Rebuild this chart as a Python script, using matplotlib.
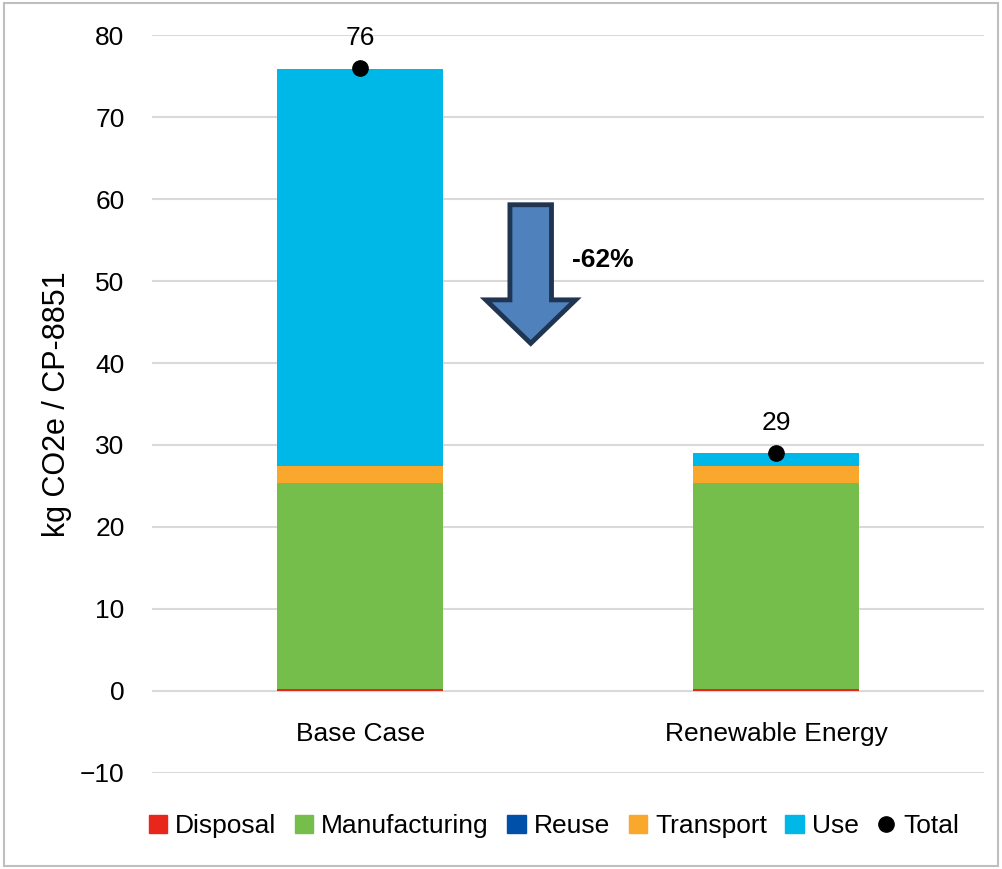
import numpy as np
import matplotlib.pyplot as plt
from matplotlib.patches import Polygon, Rectangle
from matplotlib.lines import Line2D

plt.rcParams["font.family"] = ["Liberation Sans", "DejaVu Sans"]
plt.rcParams["font.size"] = 19

# data
categories = ["Base Case", "Renewable Energy"]
disposal = [0.2, 0.2]
manufacturing = [25.2, 25.2]
reuse = [-0.05, -0.05]
transport = [2.0, 2.0]
use = [48.5, 1.6]
totals = [76, 29]

colors = {"Disposal": "#E8261C", "Manufacturing": "#76BE4B", "Reuse": "#0050AA",
          "Transport": "#F9A82D", "Use": "#00B8E8"}

fig = plt.figure(figsize=(10.02, 8.69), dpi=100)
ax = fig.add_axes([0.152, 0.1105, 0.83, 0.8492])

x = np.arange(len(categories))
w = 0.4
bottom = np.zeros(len(categories))
for name, vals in [("Disposal", disposal), ("Manufacturing", manufacturing),
                   ("Transport", transport), ("Use", use)]:
    ax.bar(x, vals, w, bottom=bottom, color=colors[name], zorder=2)
    bottom += np.array(vals)
ax.bar(x, reuse, w, color=colors["Reuse"], zorder=2)

ax.plot(x, totals, 'o', color='black', markersize=11, zorder=4)
for xi, t in zip(x, totals):
    ax.text(xi, t + 2.2, str(t), ha='center', va='bottom', fontsize=19)

# reduction arrow
ax_x, top, neck, tip = 0.41, 59.3, 47.7, 42.4
bw, hw = 0.05, 0.108
arrow = Polygon([(ax_x - bw, top), (ax_x + bw, top), (ax_x + bw, neck), (ax_x + hw, neck),
                 (ax_x, tip), (ax_x - hw, neck), (ax_x - bw, neck)],
                closed=True, facecolor='#4F81BD', edgecolor='#1F3552', linewidth=3.5,
                joinstyle='miter', zorder=3)
ax.add_patch(arrow)
ax.text(0.51, 52.6, "-62%", fontsize=19, fontweight='bold', va='center', ha='left')

ax.set_xlim(-0.5, 1.5)
ax.set_ylim(-10, 80)
ax.set_yticks(np.arange(-10, 81, 10))
ax.yaxis.grid(True, color='#D9D9D9', linewidth=1.5, zorder=0)
ax.set_axisbelow(True)
for s in ax.spines.values():
    s.set_visible(False)
ax.spines['bottom'].set_position(('data', 0))
ax.set_xticks(x)
ax.set_xticklabels(categories)
ax.tick_params(axis='both', length=0)
ax.tick_params(axis='x', pad=22)
ax.tick_params(axis='y', pad=20)
ax.set_ylabel("kg CO2e / CP-8851", fontsize=22, labelpad=6)

handles = [Rectangle((0, 0), 1, 1, color=colors[n]) for n in colors]
handles.append(Line2D([], [], marker='o', color='black', linestyle='none', markersize=11))
labels = list(colors) + ["Total"]
fig.legend(handles, labels, loc='center', bbox_to_anchor=(0.553, 0.049), ncol=6, frameon=False,
           handlelength=0.7, handleheight=0.7, handletextpad=0.3, columnspacing=0.7,
           fontsize=19)

fig.add_artist(Rectangle((0.004, 0.004), 0.992, 0.992, transform=fig.transFigure,
                         fill=False, edgecolor='#BFBFBF', linewidth=1.5))

fig.savefig("out.png", dpi=100)
